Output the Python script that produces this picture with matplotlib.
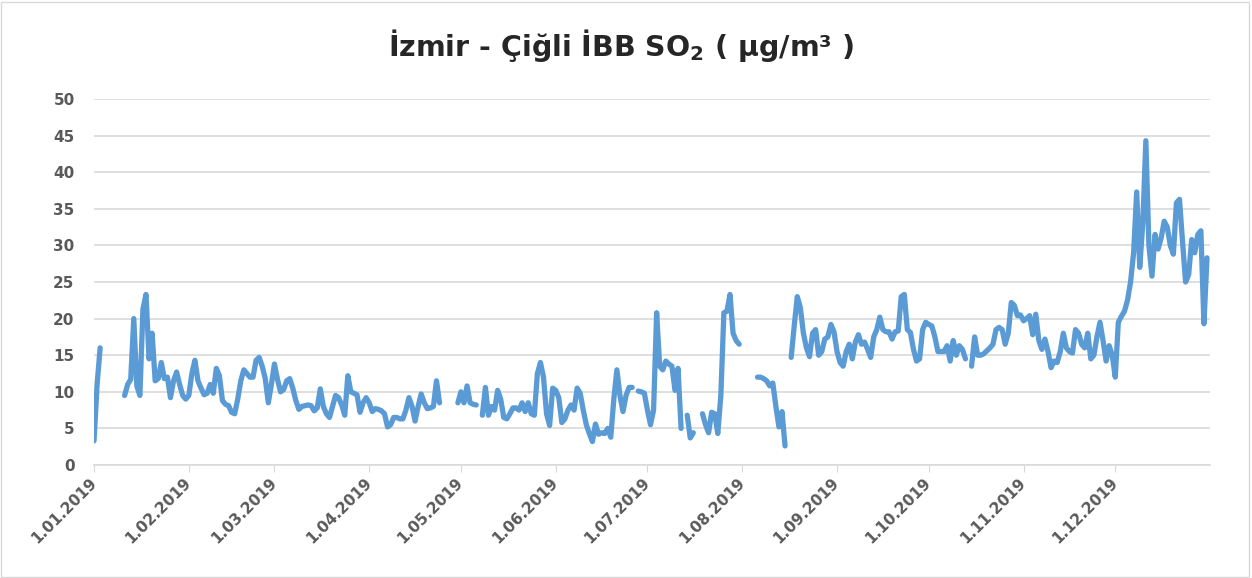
import numpy as np
import matplotlib.pyplot as plt
from matplotlib.patches import Rectangle

N = None

# daily SO2 values per month (None = no measurement)
jan = [3.3, 11, 16, N, N, N, N, N, N, N, 9.5, 11, 11.7, 20, 10.8, 9.5, 21.3, 23.3,
       14.5, 18, 11.5, 11.8, 14, 11.8, 12, 9.2, 11.5, 12.7, 11, 9.5, 9]
feb = [9.5, 12.5, 14.3, 11.5, 10.5, 9.6, 9.8, 11, 9.8, 13.2, 12.2, 8.8, 8.3, 8.1,
       7.2, 7.0, 9, 11.5, 13, 12.5, 12, 12, 14.3, 14.7, 13.5, 11.8, 8.5, 11]
mar = [13.8, 11.7, 10, 10.3, 11.5, 11.8, 10.5, 8.8, 7.6, 8, 8.1, 8.2, 8.1, 7.4, 7.8,
       10.4, 8, 7, 6.5, 8, 9.5, 9.2, 8.2, 6.8, 12.2, 10, 9.8, 9.6, 7.2, 8.5, 9.2]
apr = [8.5, 7.3, 7.7, 7.6, 7.4, 7, 5.2, 5.5, 6.5, 6.5, 6.3, 6.3, 7.5, 9.2, 8, 6, 8,
       9.7, 8.5, 7.7, 7.8, 8, 11.5, 8.5, N, N, N, N, N, 8.5]
may = [10, 8.5, 10.8, 8.5, 8.3, 8.2, N, 6.8, 10.6, 6.8, 8, 7.5, 10.2, 9, 6.5, 6.3, 7,
       7.8, 7.8, 7.5, 8.5, 7.3, 8.5, 7, 6.8, 12.5, 14, 12, 7, 5.4, 10.5]
jun = [10.2, 9.2, 5.8, 6.3, 7.5, 8.2, 7.5, 10.5, 9.8, 7.5, 5.5, 4.3, 3.2, 5.6, 4.2,
       4.4, 4.3, 5, 3.8, 9, 13, 9.5, 7.3, 9.5, 10.6, 10.6, N, 10.1, 10, 9.8]
jul = [7.5, 5.5, 7.5, 20.8, 13.5, 13, 14.2, 13.8, 13.5, 10.2, 13.2, 5, N, 6.8, 3.7,
       4.4, N, N, 7, 5.5, 4.4, 7.2, 7, 4.3, 9.5, 20.8, 21, 23.3, 18, 17, 16.5]
aug = [N, N, N, N, N, 12, 12, 11.8, 11.5, 10.8, 11.2, 8, 5.2, 7.3, 2.6, N, 14.7, 19,
       23, 21.5, 18, 16, 14.8, 18, 18.5, 15, 15.5, 17.2, 17.5, 19.2, 18.2]
sep = [15.5, 14, 13.5, 15.5, 16.5, 14.5, 16.8, 17.8, 16.5, 16.8, 15.8, 14.7, 17.5,
       18.5, 20.2, 18.5, 18.2, 18.2, 17.2, 18.2, 18.3, 23, 23.3, 18.5, 18.1, 15.8,
       14.2, 14.5, 18.5, 19.5]
oct_ = [19.2, 19, 17.5, 15.5, 15.5, 15.5, 16.3, 14.2, 17, 15, 16.3, 15.8, 14.5, N,
        13.5, 17.5, 15, 15, 15.2, 15.6, 16, 16.5, 18.5, 18.8, 18.5, 16.5, 18, 22.2,
        21.8, 20.4, 20.5]
nov = [19.7, 20, 20.4, 17.8, 20.6, 17, 15.8, 17.2, 15.5, 13.3, 14.2, 14, 15.5, 18,
       16, 15.5, 15.3, 18.5, 18, 16.5, 16, 18, 14.5, 15, 17.5, 19.5, 17, 14.2, 16.3, 15]
dec = [12, 19.5, 20.3, 21, 22.5, 25, 29, 37.3, 27, 33, 44.3, 30, 25.8, 31.5, 29.5,
       31, 33.3, 32.5, 30, 28.8, 35.8, 36.3, 30.5, 25, 26, 30.8, 29, 31.5, 32, 19.3, 28.3]

tick_labels = ['1.01.2019', '1.02.2019', '1.03.2019', '1.04.2019', '1.05.2019',
               '1.06.2019', '1.07.2019', '1.08.2019', '1.09.2019', '1.10.2019',
               '1.11.2019', '1.12.2019']

months = [jan, feb, mar, apr, may, jun, jul, aug, sep, oct_, nov, dec]
values = np.array([np.nan if v is None else v for m in months for v in m], dtype=float)
days = np.arange(len(values))
month_starts = np.cumsum([0] + [len(m) for m in months[:-1]])

gray = '#595959'

fig = plt.figure(figsize=(12.52, 5.78), dpi=100)
ax = fig.add_axes([0.0751, 0.1955, 0.8914, 0.6332])

ax.plot(days, values, color='#5b9bd5', linewidth=3.8, solid_joinstyle='round',
        solid_capstyle='round')

ax.set_xlim(0, 365)
ax.set_ylim(0, 50)
ax.set_yticks(np.arange(0, 51, 5))
ax.set_xticks(month_starts)
ax.set_xticklabels(tick_labels, rotation=45, ha='right', va='center',
                   rotation_mode='anchor')

ax.grid(axis='y', color='#d9d9d9', linewidth=1.2)
ax.set_axisbelow(True)
for s in ['top', 'right', 'left']:
    ax.spines[s].set_visible(False)
ax.spines['bottom'].set_color('#d9d9d9')
ax.spines['bottom'].set_linewidth(1.2)

ax.tick_params(axis='y', length=0, pad=14, labelcolor=gray, labelsize=11)
ax.tick_params(axis='x', length=5, color='#d9d9d9', pad=6, labelcolor=gray, labelsize=11)
for lbl in ax.get_xticklabels() + ax.get_yticklabels():
    lbl.set_fontweight('bold')

plt.rcParams['mathtext.fontset'] = 'dejavusans'
fig.text(0.496, 0.922, 'İzmir - Çiğli İBB SO$_\\mathbf{2}$ ( µg/m³ )',
         ha='center', va='center', fontsize=20.5, fontweight='bold', color='#262626')

fig.patches.append(Rectangle((0.001, 0.002), 0.997, 0.995, transform=fig.transFigure,
                             fill=False, edgecolor='#d9d9d9', linewidth=1))

fig.savefig('out.png', dpi=100)
